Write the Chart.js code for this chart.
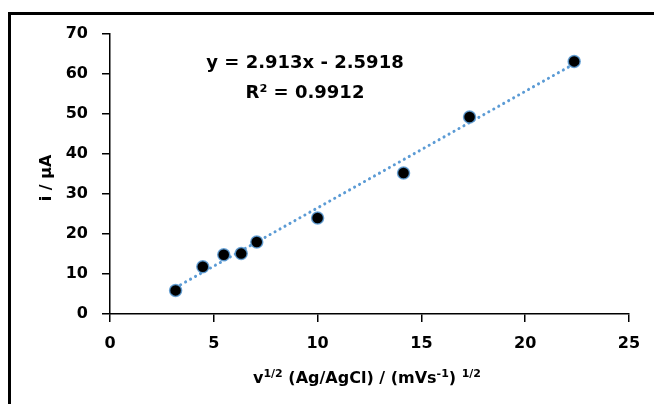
<!DOCTYPE html>
<html>
<head>
<meta charset="utf-8">
<script src="https://cdn.jsdelivr.net/npm/chart.js@4"></script>
<style>
  html, body { margin: 0; padding: 0; background: #fff; }
  canvas { display: block; }
</style>
</head>
<body>
<canvas id="ivChart" width="654" height="404"></canvas>
<script>
// scan rate square roots and peak currents
const sqrtScanRate = [3.16, 4.47, 5.48, 6.32, 7.07, 10.0, 14.14, 17.32, 22.36];
const peakCurrent = [5.9, 11.8, 14.8, 15.1, 18.0, 24.0, 35.25, 49.25, 63.15];

// linear trendline as printed on the chart
const trendSlope = 2.913;
const trendIntercept = -2.5918;
const trendX = [3.16, 22.36];

const xTicks = [0, 5, 10, 15, 20, 25];
const yTicks = [0, 10, 20, 30, 40, 50, 60, 70];

const FONT = "'DejaVu Sans', sans-serif";

const trendPoints = trendX.map(x => ({ x: x, y: trendSlope * x + trendIntercept }));
const points = sqrtScanRate.map((x, i) => ({ x: x, y: peakCurrent[i] }));

// draws the frame, equation text and axis titles (with superscripts)
const decorations = {
    id: 'decorations',
    afterDraw(chart) {
        const c = chart.ctx;
        c.save();

        // outer frame (only top and left are inside the picture)
        c.strokeStyle = '#000';
        c.lineWidth = 3;
        c.beginPath();
        c.moveTo(654, 13.5);
        c.lineTo(9.5, 13.5);
        c.lineTo(9.5, 404);
        c.stroke();

        c.fillStyle = '#000';
        c.textBaseline = 'alphabetic';

        // equation and R²
        c.font = `bold 18px ${FONT}`;
        c.textAlign = 'center';
        c.fillText('y = ' + trendSlope + 'x - ' + Math.abs(trendIntercept), 305, 68);
        c.fillText('R² = 0.9912', 305, 98);

        // y axis title
        c.save();
        c.translate(51, 178);
        c.rotate(-Math.PI / 2);
        c.font = `bold 16px ${FONT}`;
        c.fillText('i / μA', 0, 0);
        c.restore();

        // x axis title with superscripts
        const parts = [
            { t: 'v', sup: false },
            { t: '1/2', sup: true },
            { t: ' (Ag/AgCl) / (mVs', sup: false },
            { t: '-1', sup: true },
            { t: ') ', sup: false },
            { t: '1/2', sup: true }
        ];
        const fontFor = p => p.sup ? `bold 11px ${FONT}` : `bold 16px ${FONT}`;
        let total = 0;
        parts.forEach(p => {
            c.font = fontFor(p);
            total += c.measureText(p.t).width;
        });
        let x = 367 - total / 2;
        const base = 383;
        c.textAlign = 'left';
        parts.forEach(p => {
            c.font = fontFor(p);
            c.fillText(p.t, x, p.sup ? base - 6 : base);
            x += c.measureText(p.t).width;
        });

        c.restore();
    }
};

new Chart(document.getElementById('ivChart').getContext('2d'), {
    type: 'scatter',
    data: {
        datasets: [
            {
                label: 'data',
                data: points,
                pointRadius: 6,
                pointHoverRadius: 6,
                pointBackgroundColor: '#000',
                pointBorderColor: 'rgba(91,155,213,0.85)',
                pointBorderWidth: 1.5,
                showLine: false,
                order: 0
            },
            {
                label: 'trend',
                type: 'line',
                data: trendPoints,
                borderColor: '#5B9BD5',
                borderWidth: 3,
                borderDash: [0.1, 5.6],
                borderCapStyle: 'round',
                pointRadius: 0,
                fill: false,
                order: 1
            }
        ]
    },
    options: {
        responsive: false,
        animation: false,
        events: [],
        layout: { padding: { left: 0, top: 34, right: 25, bottom: 0 } },
        plugins: {
            legend: { display: false },
            tooltip: { enabled: false }
        },
        scales: {
            x: {
                type: 'linear',
                min: 0,
                max: 25,
                afterBuildTicks: s => { s.ticks = xTicks.map(v => ({ value: v })); },
                afterFit: s => { s.height = 90; },
                grid: { drawOnChartArea: false, drawTicks: true, tickLength: 8, color: '#000', lineWidth: 1.5 },
                border: { display: true, color: '#000', width: 1.5 },
                ticks: { color: '#000', padding: 12, font: { family: FONT, size: 16, weight: 'bold' } }
            },
            y: {
                type: 'linear',
                min: 0,
                max: 70,
                afterBuildTicks: s => { s.ticks = yTicks.map(v => ({ value: v })); },
                afterFit: s => { s.width = 110; },
                grid: { drawOnChartArea: false, drawTicks: true, tickLength: 8, color: '#000', lineWidth: 1.5 },
                border: { display: true, color: '#000', width: 1.5 },
                ticks: { color: '#000', padding: 14, font: { family: FONT, size: 16, weight: 'bold' } }
            }
        }
    },
    plugins: [decorations]
});
</script>
</body>
</html>
